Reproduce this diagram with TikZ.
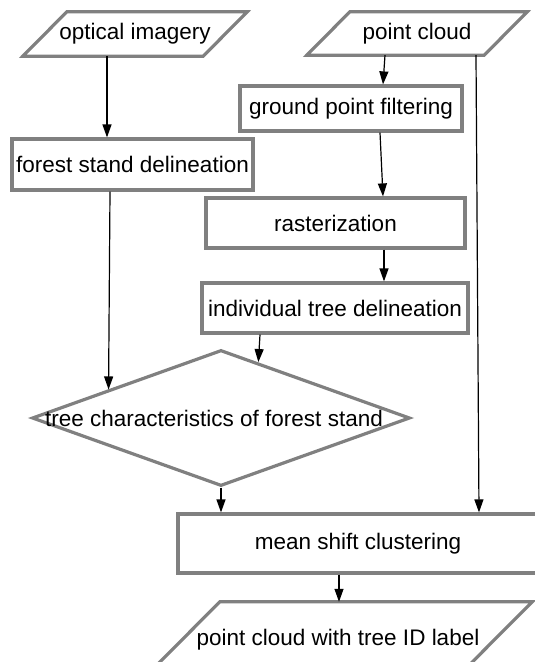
\documentclass[tikz,border=0pt]{standalone}
\usepackage{fontspec}
\setmainfont{Liberation Sans}
\usetikzlibrary{shapes.geometric,arrows.meta,calc}
\definecolor{bordergray}{HTML}{808080}
\tikzset{
  txt/.style={inner sep=0pt, font=\fontsize{22.5}{27}\selectfont, text=black},
  base/.style={txt, draw=bordergray, line width=3.2pt, fill=white},
  procbox/.style={base, rectangle},
  iotext/.style={txt, rectangle},
  ioshape/.style={draw=bordergray, line width=3.2pt, fill=white, line join=miter},
  decbox/.style={base, diamond},
  arr/.style={draw=black, line width=1.2pt, -{Triangle[length=13pt,width=9pt]}},
}
\begin{document}
\begin{tikzpicture}[x=1pt,y=-1pt]
\useasboundingbox (0,0) rectangle (535,662);
\clip (0,0) rectangle (535,662);
% input / output parallelograms
\node[iotext, minimum width=180pt, minimum height=44pt] (oi) at (135,34) {};
\draw[ioshape] ([xshift=22pt]oi.north west) -- ([xshift=22pt]oi.north east)
  -- ([xshift=-22pt]oi.south east) -- ([xshift=-22pt]oi.south west) -- cycle;
\node[iotext] at (oi) {\makebox[0pt]{optical imagery}};
\node[iotext, minimum width=177pt, minimum height=43pt] (pc) at (417,33.5) {};
\draw[ioshape] ([xshift=21.5pt]pc.north west) -- ([xshift=21.5pt]pc.north east)
  -- ([xshift=-21.5pt]pc.south east) -- ([xshift=-21.5pt]pc.south west) -- cycle;
\node[iotext] at (pc) {\makebox[0pt]{point cloud}};
\node[iotext, minimum width=312pt, minimum height=80pt] (out) at (336,642) {};
\draw[ioshape] ([xshift=40pt]out.north west) -- ([xshift=40pt]out.north east)
  -- ([xshift=-40pt]out.south east) -- ([xshift=-40pt]out.south west) -- cycle;
\node[iotext] at ([xshift=2pt,yshift=2pt]out) {\makebox[0pt]{point cloud with tree ID label}};
% process boxes
\node[procbox, minimum width=222pt, minimum height=45pt] (gpf) at (351,108.5) {\makebox[0pt]{ground point filtering}};
\node[procbox, minimum width=241pt, minimum height=51pt] (fs) at (132.5,164.5) {\makebox[0pt]{forest stand delineation}};
\node[procbox, minimum width=259pt, minimum height=50pt] (ras) at (335.5,223) {\makebox[0pt]{rasterization}};
\node[procbox, minimum width=266pt, minimum height=50pt] (itd) at (335,308) {\makebox[0pt]{individual tree delineation}};
\node[decbox, minimum width=378pt, minimum height=136pt] (d) at (221,418) {\makebox[0pt]{tree characteristics of forest stand\kern14pt}};
\node[procbox, minimum width=360pt, minimum height=59pt] (ms) at (358,543.5) {\makebox[0pt]{mean shift clustering}};
% connectors
\draw[arr] ([xshift=-28pt]oi.south) -- ([xshift=-25.5pt]fs.north);
\draw[arr] ([xshift=-32pt]pc.south) -- ([xshift=32pt]gpf.north);
\draw[arr] ([xshift=59pt]pc.south) -- ([xshift=121pt]ms.north);
\draw[arr] ([xshift=29pt]gpf.south) -- ([xshift=47.5pt]ras.north);
\draw[arr] ([xshift=48.5pt]ras.south) -- ([xshift=49pt]itd.north);
\draw[arr] ([xshift=-75pt]itd.south) -- ($(d.north)!0.196!(d.east)$);
\draw[arr] ([xshift=-22.5pt]fs.south) -- ($(d.west)!0.41!(d.north)$);
\draw[arr] (d.south) -- ([xshift=-137pt]ms.north);
\draw[arr] ([xshift=-19pt]ms.south) -- ([xshift=3pt]out.north);
\end{tikzpicture}
\end{document}
